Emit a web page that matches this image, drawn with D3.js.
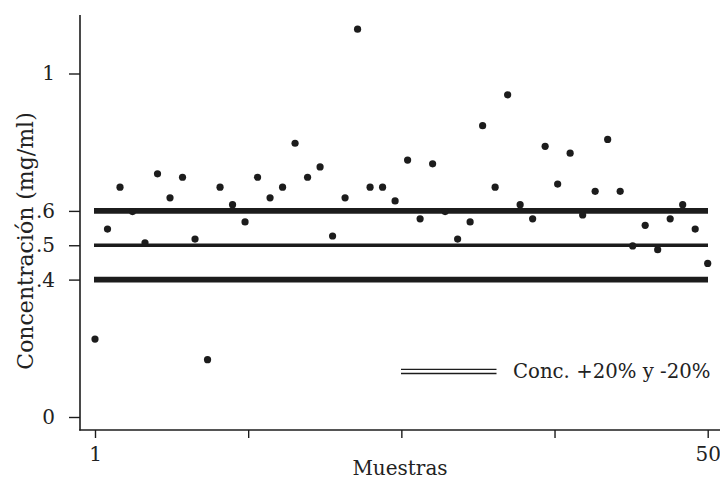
<!DOCTYPE html>
<html>
<head>
<meta charset="utf-8">
<script src="https://cdn.jsdelivr.net/npm/d3@7"></script>
<style>
  html, body { margin: 0; padding: 0; background: #fff; }
  svg { display: block; }
  text { font-family: "DejaVu Serif", "Liberation Serif", serif; fill: #222; }
</style>
</head>
<body>
<svg id="chart" width="720" height="480"></svg>
<script>
// Data
const samples = d3.range(1, 51);
const concentrations = [
  0.227, 0.547, 0.669, 0.598, 0.507, 0.708, 0.638, 0.698, 0.518, 0.167,
  0.669, 0.618, 0.568, 0.698, 0.638, 0.669, 0.797, 0.698, 0.728, 0.527,
  0.638, 1.129, 0.669, 0.669, 0.629, 0.748, 0.577, 0.737, 0.598, 0.518,
  0.568, 0.848, 0.669, 0.938, 0.618, 0.577, 0.788, 0.678, 0.768, 0.588,
  0.657, 0.808, 0.657, 0.498, 0.558, 0.487, 0.577, 0.618, 0.547, 0.447
];
const refValues = [0.6, 0.5, 0.4];
const refWidths = [5.6, 3.4, 5.6];
const yTickValues = [0, 0.4, 0.5, 0.6, 1];
const yTickLabels = ["0", ".4", ".5", ".6", "1"];
const xTickValues = [1, 13.25, 25.5, 37.75, 50];
const xTickLabels = ["1", "", "", "", "50"];
const legendLabel = "Conc. +20% y -20%";
const xTitle = "Muestras";
const yTitle = "Concentración (mg/ml)";

const svg = d3.select("#chart");
const ink = "#1c1c1c";

const x = d3.scaleLinear().domain([1, 50]).range([95, 707.7]);
const y = d3.scaleLinear().domain([0, 1]).range([417, 73.5]);

// Axes lines
svg.append("line").attr("x1", 80).attr("x2", 80).attr("y1", 15).attr("y2", 430.5)
  .attr("stroke", ink).attr("stroke-width", 1.6);
svg.append("line").attr("x1", 79.2).attr("x2", 720).attr("y1", 430).attr("y2", 430)
  .attr("stroke", ink).attr("stroke-width", 1.6);

// Y axis
const yAxis = d3.axisLeft(y).tickValues(yTickValues)
  .tickFormat((d, i) => yTickLabels[i]).tickSize(11).tickPadding(14);
const gy = svg.append("g").attr("transform", "translate(80,0)").call(yAxis);
gy.select(".domain").remove();
gy.selectAll(".tick line").attr("stroke", ink).attr("stroke-width", 1.4);
gy.selectAll(".tick text").attr("font-family", "DejaVu Serif, serif")
  .attr("font-size", 20).attr("fill", "#222");

// X axis
const xAxis = d3.axisBottom(x).tickValues(xTickValues)
  .tickFormat((d, i) => xTickLabels[i]).tickSize(8).tickPadding(9);
const gx = svg.append("g").attr("transform", "translate(0,430)").call(xAxis);
gx.select(".domain").remove();
gx.selectAll(".tick line").attr("stroke", ink).attr("stroke-width", 1.4);
gx.selectAll(".tick text").attr("font-family", "DejaVu Serif, serif")
  .attr("font-size", 20).attr("fill", "#222");

// Reference lines
svg.append("g").selectAll("line").data(refValues).join("line")
  .attr("x1", x(1) - 1).attr("x2", x(50) + 0.3)
  .attr("y1", d => y(d)).attr("y2", d => y(d))
  .attr("stroke", ink).attr("stroke-width", (d, i) => refWidths[i]);

// Points
svg.append("g").selectAll("circle").data(concentrations).join("circle")
  .attr("cx", (d, i) => x(samples[i])).attr("cy", d => y(d))
  .attr("r", 3.6).attr("fill", ink);

// Legend
const lg = svg.append("g");
[369.3, 373.5].forEach(yy => {
  lg.append("line").attr("x1", 401).attr("x2", 496.5).attr("y1", yy).attr("y2", yy)
    .attr("stroke", ink).attr("stroke-width", 1.3);
});
lg.append("text").attr("x", 513).attr("y", 378).attr("font-size", 19.7)
  .text(legendLabel);

// Titles
svg.append("text").attr("x", 400).attr("y", 475).attr("text-anchor", "middle")
  .attr("font-size", 20).text(xTitle);
svg.append("text").attr("transform", "translate(33,241) rotate(-90)")
  .attr("text-anchor", "middle").attr("font-size", 22).text(yTitle);
</script>
</body>
</html>
